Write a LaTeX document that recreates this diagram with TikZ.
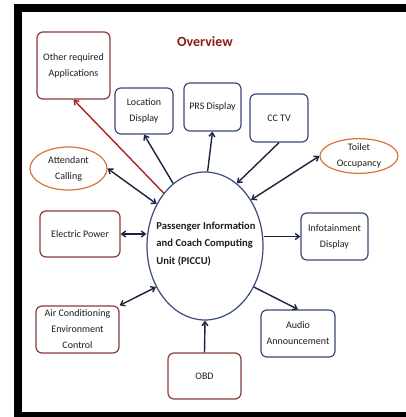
\documentclass[tikz,border=0pt]{standalone}
\usepackage{fontspec}
\setmainfont{Carlito}
\usetikzlibrary{shapes.geometric,arrows.meta}
\definecolor{bluebd}{HTML}{3A4A7C}
\definecolor{redbd}{HTML}{8A3A3A}
\definecolor{orangebd}{HTML}{D8743E}
\definecolor{linec}{HTML}{1C2340}
\definecolor{redline}{HTML}{B02222}
\definecolor{titlec}{HTML}{8B1C1C}
\definecolor{txtc}{HTML}{1E1E1E}
\tikzset{
  boxbase/.style={rectangle, rounded corners=6pt, line width=1.2pt, align=center,
    text=txtc, font=\fontsize{10}{16}\selectfont, inner sep=1pt},
  bluebox/.style={boxbase, draw=bluebd},
  redbox/.style={boxbase, draw=redbd},
  ovalbox/.style={ellipse, draw=orangebd, line width=1.2pt, align=center, text=txtc,
    font=\fontsize{10}{16}\selectfont, inner sep=0pt},
  hub/.style={ellipse, draw=bluebd, line width=1.2pt, minimum width=116pt, minimum height=148pt,
    inner sep=0pt},
  conn/.style={draw=linec, line width=1.4pt, arrows={-Straight Barb[length=4pt,width=6pt]}},
  conn2/.style={draw=linec, line width=1.4pt, arrows={Straight Barb[length=4pt,width=6pt]-Straight Barb[length=4pt,width=6pt]}},
}
\begin{document}
\begin{tikzpicture}[x=1pt,y=-1pt]
\useasboundingbox (0,0) rectangle (406,417);
\fill[black] (14,4) rectangle (406,417);
\fill[white] (22,12) rectangle (412,412);

\node[font=\fontsize{14}{16}\selectfont\bfseries, text=titlec] (title) at (205,42) {Overview};

\node[hub] (hub) at (205,246) {};
\node[align=left, font=\fontsize{10.6}{17.5}\selectfont\bfseries, text=txtc, inner sep=0pt] (hubtxt) at (206,244)
  {Passenger Information\\and Coach Computing\\Unit (PICCU)};

\node[redbox, minimum width=73pt, minimum height=67pt] (app) at (73.5,65.5) {Other required\\Applications};
\node[bluebox, minimum width=58pt, minimum height=46pt] (loc) at (144,111) {Location\\Display};
\node[bluebox, minimum width=57pt, minimum height=48pt] (prs) at (212.5,107) {PRS Display};
\node[bluebox, minimum width=58pt, minimum height=48pt] (cctv) at (279,118) {CC TV};
\node[ovalbox, minimum width=77pt, minimum height=43pt] (att) at (68.5,168.5) {Attendant\\Calling};
\node[ovalbox, minimum width=78pt, minimum height=34pt] (toilet) at (359,156) {Toilet\\Occupancy};
\node[redbox, minimum width=80pt, minimum height=46pt] (elec) at (80,234) {Electric Power};
\node[bluebox, minimum width=67pt, minimum height=47pt] (info) at (334.5,236.5) {Infotainment\\Display};
\node[redbox, minimum width=83pt, minimum height=47pt] (ac) at (77.5,329.5) {Air Conditioning\\Environment\\Control};
\node[bluebox, minimum width=74pt, minimum height=47pt] (audio) at (298,333.5) {Audio\\Announcement};
\node[redbox, minimum width=73pt, minimum height=46pt] (obd) at (204.5,376) {OBD};

\draw[conn, draw=redline] (hub.128) -- (app.south);
\draw[conn] (hub.117) -- (loc.south);
\draw[conn2] (att.east) -- (hub.139);
\draw[conn] (hub.88) -- (prs.south);
\draw[conn] (cctv.south) -- (hub.63);
\draw[conn2] (hub.45) -- (toilet.west);
\draw[conn2] (elec.east) -- (hub.west |- elec.east);
\draw[conn] (hub.east |- info.west) -- (info.west);
\draw[conn] (hub.-40) -- (audio.north);
\draw[conn] (obd.north) -- (hub.south);
\draw[conn2] (hub.220) -- (ac.north east);
\end{tikzpicture}
\end{document}
